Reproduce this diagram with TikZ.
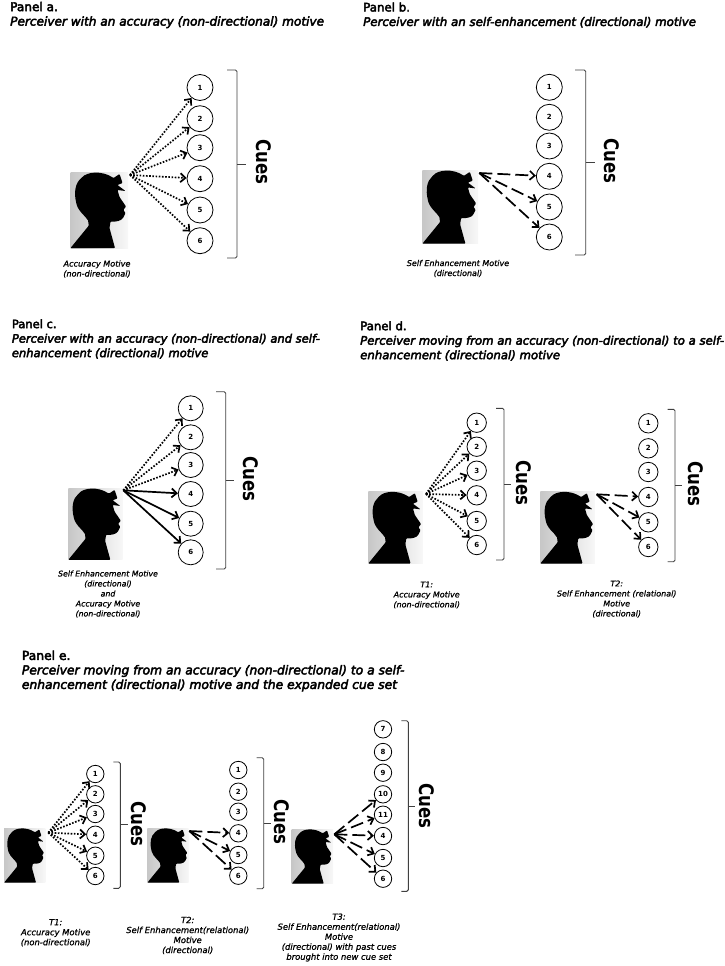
\documentclass[tikz,border=0pt]{standalone}
\usepackage{fontspec}
\usetikzlibrary{arrows.meta}
\setmainfont{DejaVu Sans}
\newfontfamily\titlefont[FakeBold=3.5]{DejaVu Sans}
\newfontfamily\motivefont[FakeBold=1]{DejaVu Sans}
\tikzset{
 >={Straight Barb[length=5pt,width=9pt]},
 cue/.style={circle,draw,line width=0.8pt,inner sep=0pt,minimum size=#1,font=\fontsize{7}{8}\selectfont\bfseries},
 brace/.style={black!75,line width=0.9pt,rounded corners=1.5pt},
 cuesword/.style={rotate=-90,xscale=0.83,inner sep=0pt,font=\fontsize{20}{21}\selectfont\bfseries},
 motive/.style={align=center,inner sep=0pt,font=\fontsize{#1}{10}\selectfont\motivefont\itshape},
 paneltitle/.style={anchor=west,align=left,inner sep=0pt,font=\fontsize{#1}{14.5}\selectfont\titlefont},
 accuracy/.style={->,line width=1.7pt,dash pattern=on 1.6pt off 1.6pt},
 enhance/.style={->,line width=1.7pt,dash pattern=on 13pt off 5pt},
 both/.style={->,line width=1.7pt},
 perceiver/.pic={
  \shade[left color=black!22,right color=black!3] (0,0) rectangle (57.5,76);
  \fill[rounded corners=0.8pt] (0,76)--(18,54) .. controls (19,50) and (17,47) .. (14,44)
   .. controls (10,40) and (7,36) .. (6,32)
   .. controls (3,20) and (5,11) .. (11,6)
   .. controls (16,0) and (31,-2) .. (43,6)
   --(49,2)--(52,11)--(47,13)--(55,19)--(47,18)--(49,25)--(55.5,34.5)
   --(52.8,38)--(55,41)--(53,45)
   .. controls (51,49) and (45,50) .. (40,49.5)
   --(39,56)--(44.5,76)--cycle;
 }
}
\begin{document}
\begin{tikzpicture}[x=1pt,y=-1pt]
 \useasboundingbox (0,0) rectangle (725,966);
 % panel a
 \node[paneltitle=12.1] (atitle) at (10,15) {Panel a.\\\textit{Perceiver with an accuracy (non-directional) motive}};
 \pic at (70.5,172) {perceiver};
 \coordinate (asrc) at (130,175);
 \foreach \n/\y in {1/87.5,2/118.7,3/147.7,4/178.7,5/210,6/240.7}{
  \node[cue=26pt] (a\n) at (200,\y) {\n};
  \draw[accuracy] (asrc)--(a\n);
 }
 \draw[brace] (227,70)--(237,70)--(237,258)--(227,258);
 \draw[brace] (237,164)--(246,164);
 \node[cuesword] (acues) at (263.5,162) {Cues};
 \node[motive=8.1] (amotive) at (97,269) {Accuracy Motive\\(non-directional)};
 % panel b
 \node[paneltitle=11.8] (btitle) at (363,15) {Panel b.\\\textit{Perceiver with an self-enhancement (directional) motive}};
 \pic[scale=0.97] at (422.3,170) {perceiver};
 \coordinate (bsrc) at (479.3,173);
 \foreach \n/\y in {1/87.3,2/117.3,3/146,4/176.3,5/207,6/237}
  \node[cue=26pt] (b\n) at (549.3,\y) {\n};
 \foreach \n in {4,5,6}
  \draw[enhance] (bsrc)--(b\n);
 \draw[brace] (575,70)--(585.7,70)--(585.7,255)--(575,255);
 \draw[brace] (585.7,162.7)--(595,162.7);
 \node[cuesword] (bcues) at (611.5,160.7) {Cues};
 \node[motive=8] (bmotive) at (458,268.5) {Self Enhancement Motive\\(directional)};
 % panel c
 \node[paneltitle=11.5] (ctitle) at (11.7,339) {Panel c.\\\textit{Perceiver with an accuracy (non-directional) and self-}\\\textit{enhancement (directional) motive}};
 \pic[scale=0.945] at (68.3,488) {perceiver};
 \coordinate (csrc) at (123.3,490.3);
 \foreach \n/\y in {1/408.3,2/437.3,3/465,4/494,5/523.7,6/552.3}
  \node[cue=25pt] (c\n) at (190.7,\y) {\n};
 \foreach \n in {1,2,3}
  \draw[accuracy] (csrc)--(c\n);
 \foreach \n in {4,5,6}
  \draw[both] (csrc)--(c\n);
 \draw[brace] (216,391.7)--(225.7,391.7)--(225.7,569)--(216,569);
 \draw[brace] (225.7,480.7)--(234,480.7);
 \node[cuesword] (ccues) at (250.5,479) {Cues};
 \node[motive=7.8] (cmotive) at (108,594) {Self Enhancement Motive\\(directional)\\and\\Accuracy Motive\\(non-directional)};
 % panel d
 \node[paneltitle=11.7] (dtitle) at (360,341) {Panel d.\\\textit{Perceiver moving from an accuracy (non-directional) to a self-}\\\textit{enhancement (directional) motive}};
 \pic[scale=0.95] at (368.3,491.3) {perceiver};
 \coordinate (dsrc) at (426,494);
 \foreach \n/\y in {1/422.7,2/446.7,3/470.7,4/495.3,5/521,6/545}{
  \node[cue=19.4pt] (d\n) at (476.7,\y) {\n};
  \draw[accuracy] (dsrc)--(d\n);
 }
 \draw[brace] (496,408.3)--(504,408.3)--(504,560)--(496,560);
 \draw[brace] (504,484)--(511,484);
 \node[cuesword] (dcues) at (524.2,483.3) {Cues};
 \node[motive=8] (dmotive) at (426.7,595) {T1:\\Accuracy Motive\\(non-directional)};
 \pic[scale=0.95] at (540.3,491.3) {perceiver};
 \coordinate (fsrc) at (596.7,494.3);
 \foreach \n/\y in {1/423.3,2/448.3,3/472,4/497,5/522.3,6/547}
  \node[cue=19.4pt] (f\n) at (648.3,\y) {\n};
 \foreach \n in {4,5,6}
  \draw[enhance] (fsrc)--(f\n);
 \draw[brace] (667.7,409.3)--(675,409.3)--(675,561.7)--(667.7,561.7);
 \draw[brace] (675,485.3)--(682.3,485.3);
 \node[cuesword] (fcues) at (695.5,484.3) {Cues};
 \node[motive=8] (fmotive) at (616.7,599) {T2:\\Self Enhancement (relational)\\Motive\\(directional)};
 % panel e
 \node[paneltitle=12.3] (etitle) at (21.7,671) {Panel e.\\\textit{Perceiver moving from an accuracy (non-directional) to a self-}\\\textit{enhancement (directional) motive and the expanded cue set}};
 \pic[scale=0.72] at (4,828) {perceiver};
 \coordinate (esrc) at (48.3,832.7);
 \foreach \n/\y in {1/774,2/794.3,3/814,4/834.7,5/855.7,6/876}{
  \node[cue=17.4pt] (e\n) at (95.3,\y) {\n};
  \draw[accuracy] (esrc)--(e\n);
 }
 \draw[brace] (113.3,762)--(120.3,762)--(120.3,888.3)--(113.3,888.3);
 \draw[brace] (120.3,824.7)--(127.7,824.7);
 \node[cuesword] (ecues) at (138.8,824) {Cues};
 \node[motive=8.4] (emotive) at (55.7,932.7) {T1:\\Accuracy Motive\\(non-directional)};
 \pic[scale=0.72] at (147.3,828) {perceiver};
 \coordinate (gsrc) at (189.3,831);
 \foreach \n/\y in {1/770,2/791.7,3/811.7,4/833.3,5/855,6/875.7}
  \node[cue=17.4pt] (g\n) at (238.3,\y) {\n};
 \foreach \n in {4,5,6}
  \draw[enhance] (gsrc)--(g\n);
 \draw[brace] (256.7,757.7)--(263.7,757.7)--(263.7,888.7)--(256.7,888.7);
 \draw[brace] (263.7,823)--(270.7,823);
 \node[cuesword] (gcues) at (282.2,822) {Cues};
 \node[motive=8.4] (gmotive) at (187.7,935.5) {T2:\\Self Enhancement(relational)\\Motive\\(directional)};
 \pic[scale=0.72] at (291.7,829) {perceiver};
 \coordinate (hsrc) at (334.3,834.3);
 \foreach \n/\y in {7/729.3,8/752,9/772.7,10/794.3,11/814.7,4/836,5/858,6/878.7}
  \node[cue=17.4pt] (h\n) at (383,\y) {\n};
 \foreach \n in {10,11,4,5,6}
  \draw[enhance] (hsrc)--(h\n);
 \draw[brace] (401.3,720.7)--(408.3,720.7)--(408.3,891.3)--(401.3,891.3);
 \draw[brace] (408.3,806)--(415.3,806);
 \node[cuesword] (hcues) at (427.2,806) {Cues};
 \node[motive=8.4] (hmotive) at (339,937.5) {T3:\\Self Enhancement(relational)\\Motive\\(directional) with past cues\\brought into new cue set};
\end{tikzpicture}
\end{document}
